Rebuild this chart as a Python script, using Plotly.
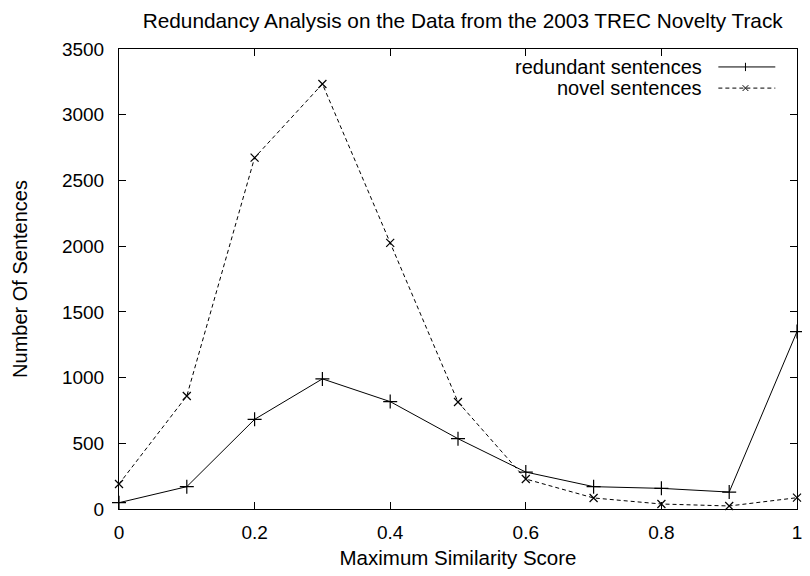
import plotly.graph_objects as go

x_vals = [0, 0.1, 0.2, 0.3, 0.4, 0.5, 0.6, 0.7, 0.8, 0.9, 1.0]
redundant = [48, 170, 682, 990, 817, 535, 281, 170, 157, 129, 1350]
novel = [190, 860, 2673, 3234, 2025, 814, 228, 84, 38, 23, 86]
x_ticks = [0, 0.2, 0.4, 0.6, 0.8, 1]
x_tick_text = ["0", "0.2", "0.4", "0.6", "0.8", "1"]
y_ticks = [0, 500, 1000, 1500, 2000, 2500, 3000, 3500]

FONT = "Liberation Sans, Arial, sans-serif"

fig = go.Figure()
fig.add_trace(go.Scatter(
    x=x_vals, y=redundant, mode="lines+markers", name="redundant sentences",
    line=dict(color="black", width=1),
    marker=dict(symbol="cross-thin", size=10, line=dict(color="black", width=1.2)),
    cliponaxis=False, showlegend=False))
fig.add_trace(go.Scatter(
    x=x_vals, y=novel, mode="lines+markers", name="novel sentences",
    line=dict(color="black", width=1, dash="4px,3px"),
    marker=dict(symbol="x-thin", size=8, line=dict(color="black", width=1.2)),
    cliponaxis=False, showlegend=False))

# custom gnuplot-style legend (text right-aligned, line sample to its right)
leg = [("redundant sentences", "solid", "+", 0.961), ("novel sentences", "4px,3px", "x", 0.915)]
x0, x1, xm = 0.884, 0.968, 0.924
for text, dash, sym, yy in leg:
    fig.add_annotation(xref="paper", yref="paper", x=0.863, y=yy, text=text,
                       showarrow=False, xanchor="right", yanchor="middle",
                       font=dict(family=FONT, size=20, color="black"))
    fig.add_shape(type="line", xref="paper", yref="paper", x0=x0, x1=x1, y0=yy, y1=yy,
                  line=dict(color="black", width=1, dash=dash))
    dx, dy = 0.006, 0.009
    if sym == "+":
        fig.add_shape(type="line", xref="paper", yref="paper", x0=xm, x1=xm, y0=yy - dy, y1=yy + dy,
                      line=dict(color="black", width=1))
    else:
        fig.add_shape(type="line", xref="paper", yref="paper", x0=xm - dx * 0.7, x1=xm + dx * 0.7,
                      y0=yy - dy * 0.7, y1=yy + dy * 0.7, line=dict(color="black", width=1))
        fig.add_shape(type="line", xref="paper", yref="paper", x0=xm - dx * 0.7, x1=xm + dx * 0.7,
                      y0=yy + dy * 0.7, y1=yy - dy * 0.7, line=dict(color="black", width=1))

fig.update_layout(
    width=802, height=568,
    margin=dict(l=111, r=8, t=41, b=67),
    paper_bgcolor="white", plot_bgcolor="white",
    font=dict(family=FONT, size=19, color="black"),
    title=dict(text="Redundancy Analysis on the Data from the 2003 TREC Novelty Track",
               x=0.567, xanchor="center", y=0.978, yanchor="middle",
               font=dict(family=FONT, size=20.8, color="black")),
)
fig.update_xaxes(range=[0, 1], tickvals=x_ticks, ticktext=x_tick_text,
                 ticks="inside", ticklen=7, tickcolor="black", mirror="allticks",
                 ticklabelstandoff=6,
                 showline=True, linecolor="black", linewidth=1, showgrid=False, zeroline=False,
                 title=dict(text="Maximum Similarity Score", standoff=8,
                            font=dict(family=FONT, size=20.5)))
fig.update_yaxes(range=[0, 3500], tickvals=y_ticks,
                 ticks="inside", ticklen=7, tickcolor="black", mirror="allticks",
                 ticklabelstandoff=10,
                 showline=True, linecolor="black", linewidth=1, showgrid=False, zeroline=False,
                 title=dict(text="Number Of Sentences", standoff=28,
                            font=dict(family=FONT, size=20)))

fig.write_html("out.html")
